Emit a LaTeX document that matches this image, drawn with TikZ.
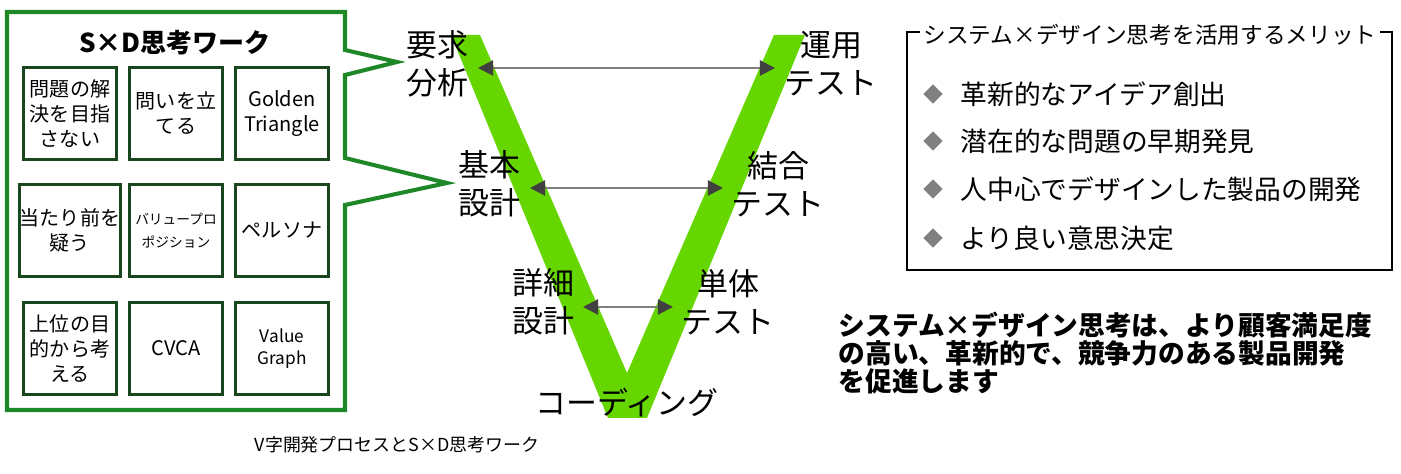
\documentclass[tikz,border=0pt]{standalone}
\usepackage{fontspec}
\setmainfont{Noto Sans CJK JP}
\usetikzlibrary{arrows.meta,shapes.geometric,positioning}
\definecolor{vgreen}{RGB}{102,214,0}
\definecolor{callgreen}{RGB}{30,135,40}
\definecolor{boxgreen}{RGB}{25,70,30}
\definecolor{tipgray}{RGB}{64,64,64}
\tikzstyle{workbox}=[draw=boxgreen, line width=0.85pt, minimum width=0.92cm, minimum height=0.91cm, inner sep=0pt, align=center, font=\fontsize{5.7}{7.1}\selectfont]
\tikzstyle{phase}=[inner sep=0pt, align=center, font=\fontsize{8.8}{10.8}\selectfont]
\tikzstyle{phaseLink}=[draw={rgb,255:red,128;green,128;blue,128}, line width=0.6pt, {Triangle[length=4.3pt,width=4.3pt,color=tipgray]}-{Triangle[length=4.3pt,width=4.3pt,color=tipgray]}]
\tikzstyle{meritBullet}=[diamond, fill=gray, inner sep=0pt, minimum width=0.2cm, minimum height=0.2cm]
\tikzstyle{merit}=[anchor=west, inner sep=0pt, font=\fontsize{7.6}{8}\selectfont]

\begin{document}
\begin{tikzpicture}[x=0.01cm, y=-0.01cm]
    \useasboundingbox (0, 0) rectangle (1401, 474);

    % S x D work panel
    \draw[callgreen, line width=1.15pt, line join=miter]
        (345, 50) -- (345, 12) -- (7, 12) -- (7, 410) -- (345, 410) -- (345, 205)
        -- (447, 183) -- (345, 158) -- (345, 75) -- (397, 62) -- cycle;
    \node[font=\fontsize{7.4}{8}\selectfont\bfseries] (work) at (175, 43) {S×D思考ワーク};

    \node[workbox] (w11) at (70, 113.5) {問題の解\\決を目指\\さない};
    \node[workbox] (w12) at (176, 113.5) {問いを立\\てる};
    \node[workbox] (w13) at (282, 113.5) {Golden\\Triangle};
    \node[workbox] (w21) at (70, 230.5) {当たり前を\\疑う};
    \node[workbox, font=\fontsize{3.9}{6.5}\selectfont] (w22) at (176, 230.5) {バリュープロ\\ポジション};
    \node[workbox] (w23) at (282, 230.5) {ペルソナ};
    \node[workbox] (w31) at (70, 348.5) {上位の目\\的から考\\える};
    \node[workbox] (w32) at (176, 348.5) {CVCA};
    \node[workbox, font=\fontsize{4.9}{6.2}\selectfont] (w33) at (282, 348.5) {Value\\Graph};

    % V model
    \fill[vgreen] (451, 35) -- (480, 35) -- (627, 373) -- (774, 35) -- (805, 35)
        -- (647, 418) -- (608, 418) -- cycle;

    \node[phase] (req) at (437, 64) {要求\\分析};
    \node[phase] (ops) at (831, 64) {運用\\テスト};
    \node[phase] (bas) at (489, 184) {基本\\設計};
    \node[phase] (intg) at (778, 184) {結合\\テスト};
    \node[phase] (det) at (543, 302) {詳細\\設計};
    \node[phase] (unit) at (728, 302) {単体\\テスト};
    \node[phase] (code) at (627, 403) {コーディング};

    \coordinate (l1) at (478, 68);
    \coordinate (r1) at (775, 68);
    \coordinate (l2) at (530, 188);
    \coordinate (r2) at (723, 188);
    \coordinate (l3) at (583, 307);
    \coordinate (r3) at (673, 307);

    % Arrows
    \draw[phaseLink] (l1) -- (r1);
    \draw[phaseLink] (l2) -- (r2);
    \draw[phaseLink] (l3) -- (r3);

    % merits
    \draw[line width=0.6pt] (907, 32) rectangle (1392, 270);
    \node[fill=white, inner sep=1pt, font=\fontsize{6.45}{7}\selectfont] (mtitle) at (1150, 35) {システム×デザイン思考を活用するメリット};

    \node[meritBullet] (b1) at (933, 94) {};
    \node[merit] (m1) at (960, 94) {革新的なアイデア創出};
    \node[meritBullet] (b2) at (933, 141) {};
    \node[merit] (m2) at (960, 141) {潜在的な問題の早期発見};
    \node[meritBullet] (b3) at (933, 189) {};
    \node[merit] (m3) at (960, 189) {人中心でデザインした製品の開発};
    \node[meritBullet] (b4) at (933, 238) {};
    \node[merit] (m4) at (960, 238) {より良い意思決定};

    \node[anchor=west, inner sep=0pt, align=left, font=\fontsize{7.6}{7.9}\selectfont\bfseries] (summary) at (838, 353)
        {システム×デザイン思考は、より顧客満足度\\の高い、革新的で、競争力のある製品開発\\を促進します};

    \node[font=\fontsize{5.1}{6}\selectfont] (caption) at (397, 445) {V字開発プロセスとS×D思考ワーク};
\end{tikzpicture}
\end{document}
